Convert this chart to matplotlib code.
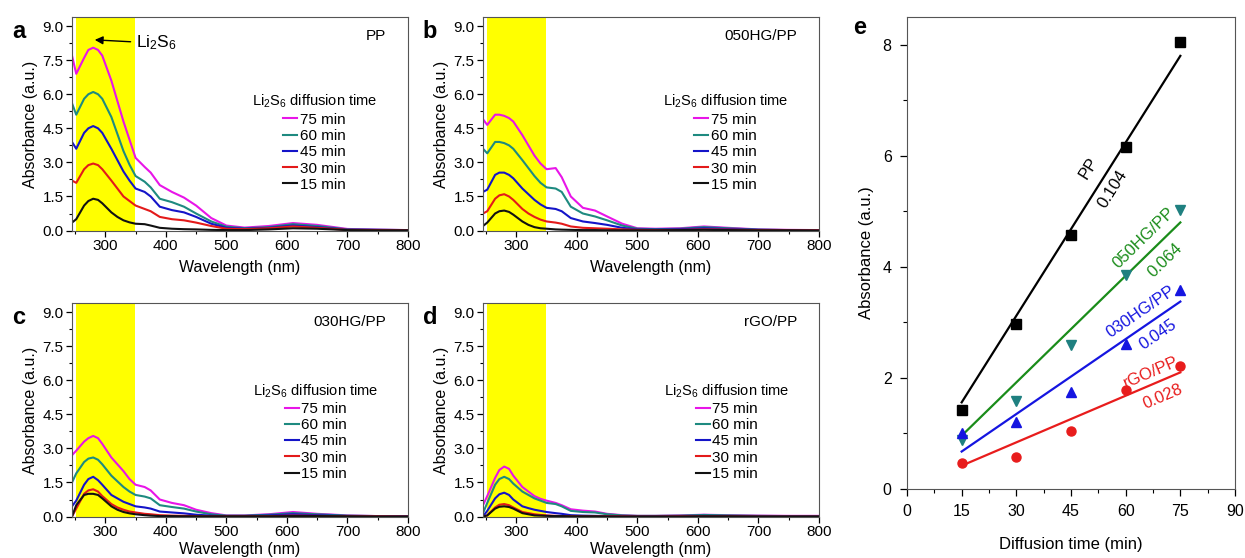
import numpy as np
import matplotlib.pyplot as plt
from matplotlib.ticker import MultipleLocator

plt.rcParams['font.family'] = ['Liberation Sans', 'DejaVu Sans']
plt.rcParams['mathtext.default'] = 'regular'

# wavelength grid (nm) and absorbance
wl = [245, 252, 265, 272, 280, 288, 295, 310, 320, 330, 340, 350, 365, 375, 390, 410, 430, 450, 475, 500,
      530, 570, 610, 650, 700, 750, 800]
times = ['75 min', '60 min', '45 min', '30 min', '15 min']

pp_abs = [
    [7.7, 6.9, 7.6, 7.95, 8.05, 7.95, 7.7, 6.6, 5.7, 4.8, 4.0, 3.2, 2.8, 2.55, 2.0, 1.7, 1.45, 1.1, 0.55, 0.22, 0.13, 0.2, 0.33, 0.25, 0.07, 0.04, 0.02],
    [5.6, 5.1, 5.8, 6.0, 6.1, 6.0, 5.8, 5.0, 4.25, 3.5, 2.9, 2.4, 2.15, 1.9, 1.4, 1.25, 1.05, 0.75, 0.4, 0.17, 0.1, 0.15, 0.28, 0.2, 0.05, 0.03, 0.02],
    [3.9, 3.6, 4.3, 4.5, 4.6, 4.5, 4.3, 3.6, 3.1, 2.6, 2.2, 1.85, 1.7, 1.5, 1.05, 0.9, 0.8, 0.6, 0.3, 0.12, 0.08, 0.12, 0.22, 0.15, 0.04, 0.03, 0.02],
    [2.2, 2.1, 2.7, 2.88, 2.95, 2.88, 2.7, 2.2, 1.85, 1.5, 1.3, 1.1, 0.95, 0.85, 0.6, 0.5, 0.45, 0.35, 0.2, 0.08, 0.06, 0.1, 0.18, 0.12, 0.03, 0.02, 0.01],
    [0.35, 0.5, 1.1, 1.3, 1.4, 1.35, 1.2, 0.8, 0.6, 0.45, 0.36, 0.3, 0.28, 0.22, 0.12, 0.08, 0.06, 0.05, 0.03, 0.02, 0.02, 0.05, 0.1, 0.08, 0.02, 0.01, 0.01],
]
hg050_abs = [
    [4.9, 4.65, 5.1, 5.1, 5.05, 4.95, 4.8, 4.2, 3.75, 3.3, 2.95, 2.7, 2.75, 2.35, 1.5, 1.0, 0.88, 0.62, 0.3, 0.1, 0.08, 0.1, 0.18, 0.12, 0.05, 0.03, 0.02],
    [3.6, 3.4, 3.9, 3.9, 3.85, 3.75, 3.6, 3.1, 2.75, 2.4, 2.1, 1.9, 1.85, 1.7, 1.05, 0.75, 0.62, 0.45, 0.22, 0.08, 0.06, 0.08, 0.15, 0.1, 0.04, 0.02, 0.02],
    [1.7, 1.8, 2.45, 2.55, 2.55, 2.45, 2.3, 1.85, 1.6, 1.35, 1.15, 1.0, 0.95, 0.85, 0.55, 0.4, 0.33, 0.25, 0.12, 0.05, 0.04, 0.06, 0.1, 0.07, 0.03, 0.02, 0.01],
    [0.75, 0.85, 1.4, 1.55, 1.6, 1.5, 1.35, 0.95, 0.75, 0.6, 0.48, 0.4, 0.35, 0.3, 0.18, 0.12, 0.1, 0.08, 0.05, 0.03, 0.02, 0.03, 0.05, 0.04, 0.02, 0.01, 0.01],
    [0.2, 0.35, 0.75, 0.85, 0.88, 0.82, 0.7, 0.4, 0.25, 0.15, 0.1, 0.08, 0.05, 0.04, 0.03, 0.02, 0.02, 0.01, 0.01, 0.01, 0.01, 0.02, 0.03, 0.02, 0.01, 0.01, 0.0],
]
hg030_abs = [
    [2.7, 2.9, 3.3, 3.45, 3.55, 3.45, 3.2, 2.6, 2.3, 2.0, 1.65, 1.4, 1.3, 1.15, 0.75, 0.6, 0.5, 0.3, 0.15, 0.05, 0.05, 0.1, 0.2, 0.12, 0.05, 0.02, 0.02],
    [1.5, 1.9, 2.4, 2.55, 2.6, 2.5, 2.3, 1.8, 1.55, 1.3, 1.1, 0.95, 0.88, 0.8, 0.5, 0.42, 0.35, 0.22, 0.1, 0.04, 0.04, 0.08, 0.15, 0.1, 0.04, 0.02, 0.01],
    [0.45, 0.7, 1.4, 1.65, 1.75, 1.6, 1.4, 0.95, 0.8, 0.65, 0.55, 0.45, 0.4, 0.35, 0.22, 0.18, 0.14, 0.08, 0.04, 0.02, 0.02, 0.05, 0.1, 0.06, 0.02, 0.01, 0.01],
    [0.0, 0.35, 1.0, 1.15, 1.2, 1.1, 0.9, 0.55, 0.4, 0.3, 0.22, 0.18, 0.12, 0.1, 0.06, 0.04, 0.03, 0.02, 0.01, 0.01, 0.01, 0.02, 0.04, 0.03, 0.01, 0.01, 0.0],
    [0.0, 0.5, 0.95, 1.0, 1.0, 0.95, 0.8, 0.45, 0.3, 0.2, 0.14, 0.1, 0.06, 0.04, 0.02, 0.02, 0.01, 0.01, 0.01, 0.01, 0.01, 0.01, 0.02, 0.02, 0.01, 0.0, 0.0],
]
rgo_abs = [
    [0.5, 0.9, 1.7, 2.05, 2.2, 2.1, 1.8, 1.3, 1.1, 0.9, 0.78, 0.7, 0.6, 0.5, 0.32, 0.26, 0.22, 0.12, 0.06, 0.03, 0.03, 0.05, 0.08, 0.06, 0.04, 0.03, 0.03],
    [0.15, 0.6, 1.4, 1.65, 1.75, 1.65, 1.45, 1.1, 0.95, 0.8, 0.7, 0.6, 0.55, 0.45, 0.25, 0.2, 0.18, 0.1, 0.05, 0.03, 0.03, 0.04, 0.07, 0.05, 0.03, 0.02, 0.02],
    [0.0, 0.25, 0.8, 0.98, 1.05, 0.95, 0.75, 0.45, 0.37, 0.3, 0.25, 0.2, 0.15, 0.12, 0.06, 0.04, 0.03, 0.02, 0.02, 0.01, 0.01, 0.02, 0.03, 0.02, 0.01, 0.01, 0.01],
    [0.0, 0.05, 0.4, 0.52, 0.55, 0.5, 0.4, 0.2, 0.15, 0.1, 0.07, 0.05, 0.03, 0.02, 0.02, 0.01, 0.01, 0.01, 0.01, 0.0, 0.0, 0.01, 0.01, 0.01, 0.0, 0.0, 0.0],
    [0.0, 0.05, 0.35, 0.43, 0.45, 0.42, 0.35, 0.15, 0.1, 0.05, 0.04, 0.03, 0.02, 0.02, 0.01, 0.01, 0.01, 0.0, 0.0, 0.0, 0.0, 0.0, 0.01, 0.01, 0.0, 0.0, 0.0],
]

# panel e: absorbance vs diffusion time, slopes of the linear fits
t_diff = [15, 30, 45, 60, 75]
e_pp = [1.42, 2.98, 4.58, 6.15, 8.05]
e_050 = [0.88, 1.58, 2.59, 3.85, 5.02]
e_030 = [1.0, 1.2, 1.75, 2.62, 3.58]
e_rgo = [0.47, 0.58, 1.05, 1.78, 2.22]
slopes = [0.104, 0.064, 0.045, 0.028]

spec_colors = ['#e815e8', '#1e8a80', '#1414c8', '#e31a1a', '#111111']

W, H = 1245, 558
fig = plt.figure(figsize=(W / 100, H / 100), dpi=100)

panels = [
    ('a', 'PP', pp_abs, (72, 17), 0.535, 0.645, 5),
    ('b', '050HG/PP', hg050_abs, (483, 17), 0.535, 0.645, 5),
    ('c', '030HG/PP', hg030_abs, (72, 303), 0.54, 0.63, 2),
    ('d', 'rGO/PP', rgo_abs, (483, 303), 0.54, 0.63, 2),
]
for letter, name, spectra, (px, py), lx, ly, xpad in panels:
    ax = fig.add_axes([px / W, 1 - (py + 214) / H, 336 / W, 214 / H])
    ax.axvspan(252, 349, color='#ffff00', lw=0, zorder=0)
    for vals, lab, c in zip(spectra, times, spec_colors):
        ax.plot(wl, vals, color=c, lw=1.5, label=lab)
    ax.set_xlim(245, 800)
    ax.set_ylim(-0.02, 9.4)
    ax.set_xticks([300, 400, 500, 600, 700, 800])
    ax.set_yticks(np.arange(0, 9.1, 1.5))
    ax.yaxis.set_major_formatter(plt.FormatStrFormatter('%.1f'))
    ax.xaxis.set_minor_locator(MultipleLocator(50))
    ax.yaxis.set_minor_locator(MultipleLocator(0.75))
    ax.tick_params(direction='out', length=4, width=0.9, labelsize=11, pad=2)
    ax.tick_params(which='minor', direction='out', length=2, width=0.8)
    for s in ax.spines.values():
        s.set_color('#555555')
    ax.set_xlabel('Wavelength (nm)', fontsize=11.5, labelpad=xpad)
    ax.set_ylabel('Absorbance (a.u.)', fontsize=11.5, labelpad=3)
    ax.text(0.935, 0.91, name, transform=ax.transAxes, ha='right', va='center', fontsize=11)
    ax.legend(loc='upper left', bbox_to_anchor=(lx, ly), frameon=False, fontsize=11,
              title='Li$_2$S$_6$ diffusion time', title_fontsize=10.5,
              handlelength=0.9, handletextpad=0.15, labelspacing=0.15,
              borderpad=0, borderaxespad=0)
    fig.text((px - 53) / W, 1 - (py + 14) / H, letter, fontsize=17, fontweight='bold',
             ha='center', va='center')
    if letter == 'a':
        ax.annotate('Li$_2$S$_6$', xy=(278, 8.4), xytext=(351, 8.25), fontsize=12.5,
                    ha='left', va='center',
                    arrowprops=dict(arrowstyle='-|>', color='black', lw=1, mutation_scale=12))

# panel e
ax = fig.add_axes([907 / W, 1 - 489 / H, 328 / W, 472 / H])
series = [
    (e_pp, 's', 'black', 'black', 'PP', slopes[0], (50.0, 5.78), (56.4, 5.4)),
    (e_050, 'v', '#1f8080', '#1a8c1a', '050HG/PP', slopes[1], (65.0, 4.52), (70.8, 4.12)),
    (e_030, '^', '#1515e0', '#1515e0', '030HG/PP', slopes[2], (64.2, 3.2), (68.9, 2.78)),
    (e_rgo, 'o', '#e81c1c', '#e81c1c', 'rGO/PP', slopes[3], (67.0, 2.1), (70.2, 1.66)),
]
xt = np.array([t_diff[0], t_diff[-1]])
for ys, m, mc, lc, lab, k, p1, p2 in series:
    ax.plot(t_diff, ys, m, color=mc, ms=6.5, ls='none', zorder=3)
    ax.plot(xt, k * xt, color=lc, lw=1.6, zorder=2)
    ang = np.degrees(np.arctan(k))
    ax.text(p1[0], p1[1], lab, color=lc, fontsize=12, rotation=ang, rotation_mode='anchor',
            transform_rotates_text=True, ha='center', va='center')
    ax.text(p2[0], p2[1], f'{k:.3f}', color=lc, fontsize=12, rotation=ang, rotation_mode='anchor',
            transform_rotates_text=True, ha='center', va='center')
ax.set_xlim(0, 90)
ax.set_ylim(0, 8.5)
ax.set_xticks(np.arange(0, 91, 15))
ax.set_yticks([0, 2, 4, 6, 8])
ax.xaxis.set_minor_locator(MultipleLocator(7.5))
ax.yaxis.set_minor_locator(MultipleLocator(1))
ax.tick_params(direction='out', length=5, width=0.9, labelsize=11.5, pad=6)
ax.tick_params(which='minor', direction='out', length=3, width=0.8)
for s in ax.spines.values():
    s.set_color('#555555')
ax.set_xlabel('Diffusion time (min)', fontsize=12, labelpad=13)
ax.set_ylabel('Absorbance (a.u.)', fontsize=12, labelpad=6)
fig.text(860 / W, 1 - 28 / H, 'e', fontsize=17, fontweight='bold', ha='center', va='center')

fig.savefig('out.png', dpi=100)
